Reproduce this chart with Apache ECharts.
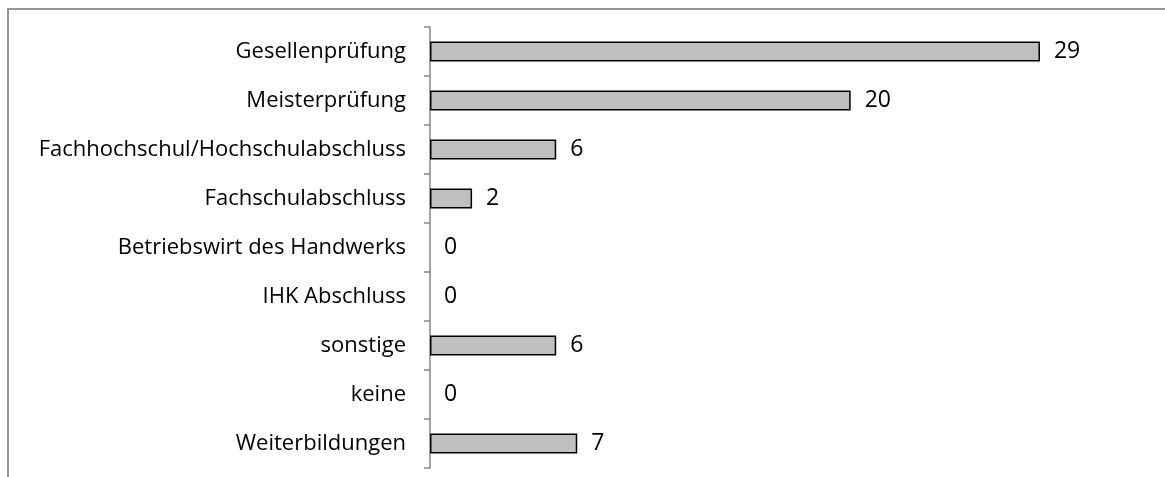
<!DOCTYPE html>
<html><head><meta charset="utf-8">
<script src="https://cdn.jsdelivr.net/npm/echarts@6/dist/echarts.min.js"></script>
<style>html,body{margin:0;padding:0;background:#fff}#c{width:1165px;height:477px}</style>
</head><body><div id="c"></div>
<script>
const categories = ["Gesellenprüfung","Meisterprüfung","Fachhochschul/Hochschulabschluss","Fachschulabschluss","Betriebswirt des Handwerks","IHK Abschluss","sonstige","keine","Weiterbildungen"];
const values = [29,20,6,2,0,0,6,0,7];

const chart = echarts.init(document.getElementById('c'), null, {renderer:'canvas'});
chart.setOption({
  animation:false,
  graphic:[{type:'rect', shape:{x:8,y:9,width:1200,height:500}, style:{fill:'none',stroke:'#969696',lineWidth:2}, silent:true}],
  grid:{left:430, top:27, right:104, bottom:9, containLabel:false},
  xAxis:{type:'value', min:0, max:30, show:false},
  yAxis:{type:'category', inverse:true, data:categories,
    axisLine:{show:true, lineStyle:{color:'#868686', width:1.5}},
    axisTick:{show:true, length:6, lineStyle:{color:'#868686', width:1.5}},
    axisLabel:{margin:24, color:'#000', fontFamily:'Open Sans', fontSize:22}
  },
  series:[{type:'bar', barWidth:20, z:1,
    data: values.map(v => v === 0 ? {value:v, itemStyle:{borderWidth:0}} : v),
    itemStyle:{color:'#bfbfbf', borderColor:'#000', borderWidth:1.5},
    label:{show:true, position:'right', distance:14, color:'#000', fontFamily:'Open Sans', fontSize:23}
  }]
});
</script></body></html>
